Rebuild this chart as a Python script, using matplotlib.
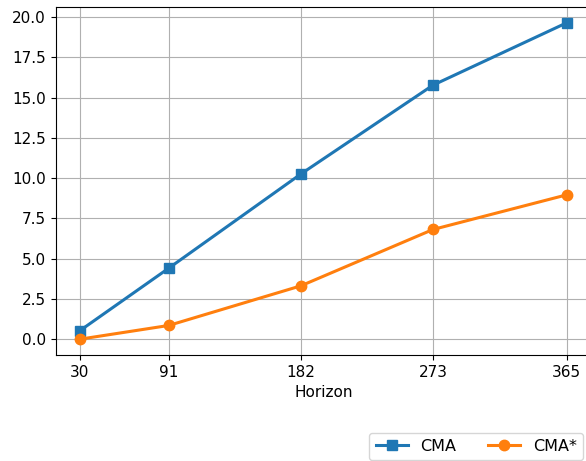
import matplotlib.pyplot as plt
import numpy as np

# forecast horizon in days
horizons = [30, 91, 182, 273, 365]
cma = [0.53, 4.4, 10.25, 15.77, 19.64]
cma_star = [0.0, 0.85, 3.31, 6.81, 8.96]

plt.rcParams['font.size'] = 11

fig = plt.figure(figsize=(5.86, 4.61), dpi=100)
# axes run a little past the right edge of the canvas
ax = fig.add_axes([55.6 / 586, 106 / 461, (591 - 55.6) / 586, (355 - 7) / 461])

ax.plot(horizons, cma, marker='s', linewidth=2.2, markersize=7.5, label='CMA')
ax.plot(horizons, cma_star, marker='o', linewidth=2.2, markersize=7.5, label='CMA*')

ax.set_xticks(horizons)
ax.set_xticklabels([str(h) for h in horizons])
ax.set_xlabel('Horizon')
ax.grid(True)

fig.legend(loc='lower right', bbox_to_anchor=(1.009, -0.016), ncol=2, fontsize=11.5)

fig.savefig('out.png', dpi=100)
